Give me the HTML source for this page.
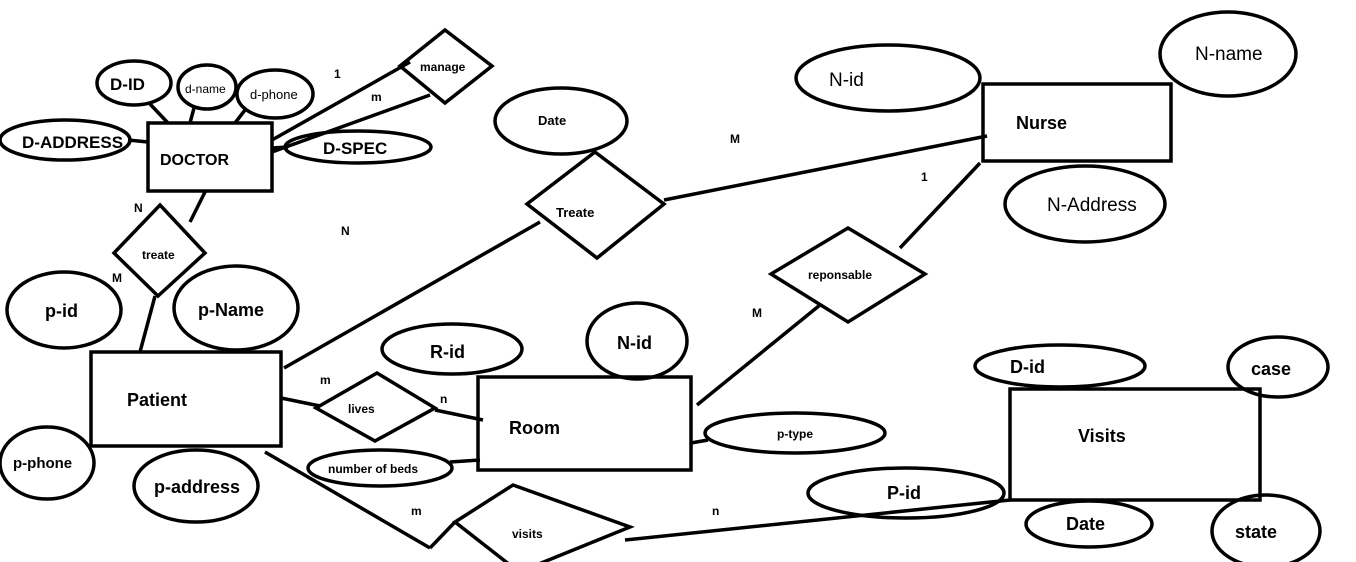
<!DOCTYPE html>
<html><head><meta charset="utf-8"><style>
html,body{margin:0;padding:0;background:#fff;}
svg{display:block;}
text{font-family:"Liberation Sans",sans-serif;fill:#000;}
</style></head><body>
<svg width="1356" height="562" viewBox="0 0 1356 562" xmlns="http://www.w3.org/2000/svg">
<g fill="none" stroke="#000" stroke-width="3.5">
<!-- Doctor -->
<rect x="148" y="123" width="124" height="68"/>
<ellipse cx="134" cy="83" rx="37" ry="22"/>
<ellipse cx="207" cy="87" rx="29" ry="22"/>
<ellipse cx="275" cy="94" rx="38" ry="24"/>
<ellipse cx="65" cy="140" rx="65" ry="20"/>
<ellipse cx="358" cy="147" rx="73" ry="16"/>
<line x1="150" y1="104" x2="168" y2="123"/>
<line x1="194" y1="108" x2="190" y2="123"/>
<line x1="245" y1="110" x2="235" y2="123"/>
<line x1="128" y1="140" x2="148" y2="142"/>
<line x1="272" y1="148" x2="288" y2="147"/>
<polygon points="445,30 492,66 445,103 400,66"/>
<line x1="272" y1="140" x2="410" y2="62"/>
<line x1="272" y1="152" x2="430" y2="95"/>
<!-- Treate -->
<ellipse cx="561" cy="121" rx="66" ry="33"/>
<polygon points="595,152 664,204 597,258 527,204"/>
<line x1="664" y1="200" x2="987" y2="136"/>
<line x1="284" y1="368" x2="540" y2="222"/>
<!-- Nurse -->
<rect x="983" y="84" width="188" height="77"/>
<ellipse cx="888" cy="78" rx="92" ry="33"/>
<ellipse cx="1228" cy="54" rx="68" ry="42"/>
<ellipse cx="1085" cy="204" rx="80" ry="38"/>
<line x1="980" y1="163" x2="900" y2="248"/>
<polygon points="848,228 925,274 848,322 771,274"/>
<line x1="820" y1="305" x2="697" y2="405"/>
<!-- Patient -->
<rect x="91" y="352" width="190" height="94"/>
<polygon points="160,205 205,253 158,296 114,253"/>
<line x1="205" y1="192" x2="190" y2="222"/>
<line x1="155" y1="296" x2="140" y2="352"/>
<ellipse cx="64" cy="310" rx="57" ry="38"/>
<ellipse cx="236" cy="308" rx="62" ry="42"/>
<ellipse cx="47" cy="463" rx="47" ry="36"/>
<ellipse cx="196" cy="486" rx="62" ry="36"/>
<polygon points="377,373 435,408 375,441 316,408"/>
<line x1="281" y1="398" x2="320" y2="406"/>
<line x1="435" y1="410" x2="483" y2="420"/>
<!-- Room -->
<rect x="478" y="377" width="213" height="93"/>
<ellipse cx="452" cy="349" rx="70" ry="25"/>
<ellipse cx="637" cy="341" rx="50" ry="38"/>
<ellipse cx="795" cy="433" rx="90" ry="20"/>
<line x1="691" y1="443" x2="708" y2="440"/>
<ellipse cx="380" cy="468" rx="72" ry="18"/>
<line x1="450" y1="462" x2="480" y2="460"/>
<!-- visits -->
<polygon points="513,485 630,527 519,572 455,522"/>
<line x1="265" y1="452" x2="430" y2="548"/>
<line x1="430" y1="548" x2="455" y2="522"/>
<line x1="625" y1="540" x2="1010" y2="500"/>
<rect x="1010" y="389" width="250" height="111"/>
<ellipse cx="1060" cy="366" rx="85" ry="21"/>
<ellipse cx="1278" cy="367" rx="50" ry="30"/>
<ellipse cx="906" cy="493" rx="98" ry="25"/>
<ellipse cx="1089" cy="524" rx="63" ry="23"/>
<ellipse cx="1266" cy="531" rx="54" ry="36"/>
</g>
<g font-weight="bold">
<text x="110" y="90" font-size="17" font-family="Liberation Serif">D-ID</text>
<text x="185" y="93" font-size="12" font-weight="normal">d-name</text>
<text x="250" y="99" font-size="13" font-weight="normal">d-phone</text>
<text x="22" y="148" font-size="17" font-family="Liberation Serif">D-ADDRESS</text>
<text x="160" y="165" font-size="16" font-family="Liberation Serif">DOCTOR</text>
<text x="323" y="154" font-size="17" font-family="Liberation Serif">D-SPEC</text>
<text x="420" y="71" font-size="12">manage</text>
<text x="334" y="78" font-size="12">1</text>
<text x="371" y="101" font-size="12">m</text>
<text x="538" y="125" font-size="13">Date</text>
<text x="556" y="217" font-size="13">Treate</text>
<text x="730" y="143" font-size="12">M</text>
<text x="1016" y="129" font-size="18">Nurse</text>
<text x="829" y="86" font-size="19" font-weight="normal">N-id</text>
<text x="1195" y="60" font-size="19" font-weight="normal">N-name</text>
<text x="1047" y="211" font-size="19" font-weight="normal">N-Address</text>
<text x="921" y="181" font-size="12">1</text>
<text x="808" y="279" font-size="12">reponsable</text>
<text x="752" y="317" font-size="12">M</text>
<text x="142" y="259" font-size="12">treate</text>
<text x="134" y="212" font-size="12">N</text>
<text x="112" y="282" font-size="12">M</text>
<text x="341" y="235" font-size="12">N</text>
<text x="127" y="406" font-size="18">Patient</text>
<text x="45" y="317" font-size="18">p-id</text>
<text x="198" y="316" font-size="18">p-Name</text>
<text x="13" y="468" font-size="15">p-phone</text>
<text x="154" y="493" font-size="18">p-address</text>
<text x="348" y="413" font-size="12">lives</text>
<text x="320" y="384" font-size="12">m</text>
<text x="440" y="403" font-size="12">n</text>
<text x="509" y="434" font-size="18">Room</text>
<text x="430" y="358" font-size="18">R-id</text>
<text x="617" y="349" font-size="18">N-id</text>
<text x="777" y="438" font-size="12">p-type</text>
<text x="328" y="473" font-size="12">number of beds</text>
<text x="512" y="538" font-size="12">visits</text>
<text x="411" y="515" font-size="12">m</text>
<text x="712" y="515" font-size="12">n</text>
<text x="1078" y="442" font-size="18">Visits</text>
<text x="1010" y="373" font-size="18">D-id</text>
<text x="1251" y="375" font-size="18">case</text>
<text x="887" y="499" font-size="18">P-id</text>
<text x="1066" y="530" font-size="18">Date</text>
<text x="1235" y="538" font-size="18">state</text>
</g>
</svg>
</body></html>
